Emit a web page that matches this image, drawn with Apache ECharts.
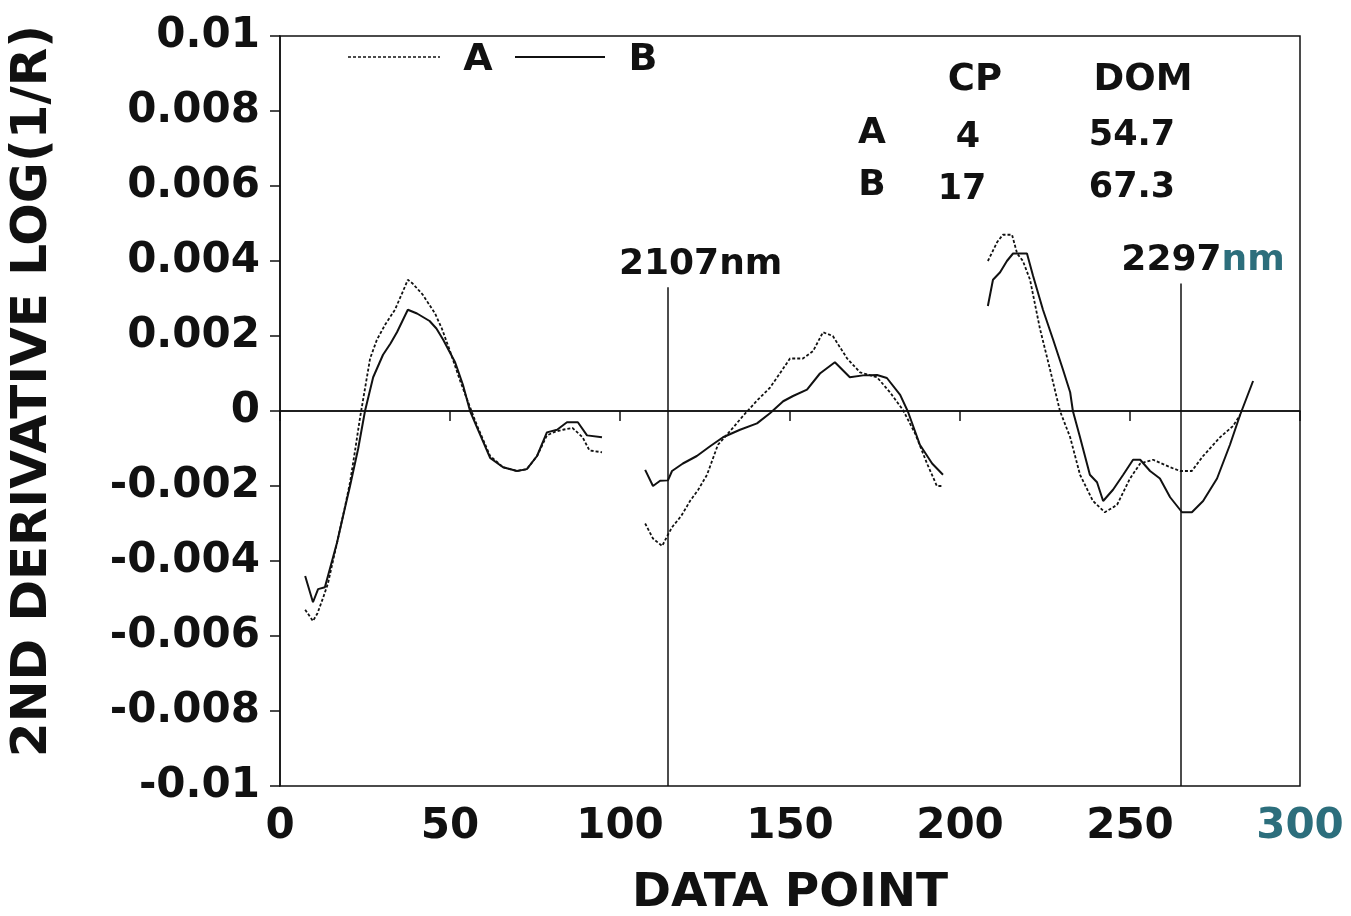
<!DOCTYPE html>
<html>
<head>
<meta charset="utf-8">
<script src="https://cdn.jsdelivr.net/npm/echarts@6/dist/echarts.min.js"></script>
<style>
html,body{margin:0;padding:0;background:#fff;}
#chart{width:1351px;height:916px;}
</style>
</head>
<body>
<div id="chart"></div>
<script>
// ---- data ----
var seriesNames = ['A', 'B'];
var xTicks = [0, 50, 100, 150, 200, 250, 300];
var yTicks = [-0.01, -0.008, -0.006, -0.004, -0.002, 0, 0.002, 0.004, 0.006, 0.008, 0.01];

var A_seg1 = [[7.4,-0.0053],[9.7,-0.0056],[11,-0.0054],[12.6,-0.0050],[14.1,-0.0046],[16.8,-0.0035],[19,-0.0026],[20.6,-0.0019],[22,-0.0011],[23.5,-0.0002],[25,0.0006],[26.5,0.0014],[28.5,0.0019],[30.9,0.0023],[33.8,0.0027],[36.2,0.0032],[37.6,0.0035],[39,0.0034],[42,0.0031],[45.6,0.0026],[47.6,0.0022],[50,0.0016],[53,0.0008],[55.9,0.0001],[58,-0.0004],[61.8,-0.0012],[65.6,-0.0015],[69.7,-0.0016],[72.6,-0.00155],[75.6,-0.0012],[78.5,-0.00065],[81,-0.00055],[83.2,-0.0005],[86,-0.00045],[89,-0.0007],[91,-0.00105],[94.7,-0.0011]];
var A_seg2 = [[107.4,-0.0030],[109.7,-0.0034],[112.4,-0.0036],[114.1,-0.0033],[115.3,-0.0031],[118,-0.0028],[120.6,-0.0024],[123,-0.0021],[125.6,-0.0017],[128.8,-0.0009],[133.2,-0.00045],[136.2,-0.00013],[140.3,0.00028],[144.1,0.00062],[147,0.0010],[150,0.0014],[153.8,0.0014],[156.8,0.0016],[159.7,0.0021],[162.6,0.0020],[166.8,0.0014],[170.6,0.00103],[175.6,0.0009],[179.4,0.0005],[183.2,0.00003],[186.8,-0.0006],[190.3,-0.0014],[193.2,-0.0020],[195,-0.0020]];
var A_seg3 = [[208.2,0.0040],[210.9,0.0045],[212.6,0.0047],[215.3,0.0047],[216.8,0.0042],[218.5,0.0040],[220.6,0.0035],[223.5,0.0022],[226.5,0.0011],[229.4,0],[232.4,-0.0007],[235.3,-0.0017],[239.1,-0.0024],[242.6,-0.0027],[244.5,-0.0026],[246.2,-0.0025],[250,-0.0018],[253,-0.0014],[256.8,-0.0013],[261.8,-0.0015],[264.7,-0.0016],[268.2,-0.0016],[271.5,-0.0012],[276.5,-0.0007],[280.3,-0.0004],[282.4,-0.0001]];

var B_seg1 = [[7.4,-0.0044],[9.7,-0.0051],[11.2,-0.00475],[13.2,-0.0047],[15,-0.0041],[16.8,-0.0035],[18.8,-0.0027],[20.6,-0.0020],[23,-0.0010],[25,0],[27.4,0.0009],[30.3,0.0015],[32.5,0.0018],[34.4,0.0021],[36,0.0024],[37.6,0.0027],[40.3,0.0026],[44,0.0024],[46,0.0022],[48,0.0019],[51.5,0.0013],[53.8,0.0007],[55.9,0],[58,-0.00045],[61.8,-0.00125],[65.6,-0.0015],[69.7,-0.0016],[72.6,-0.00155],[75.6,-0.0012],[78.5,-0.00057],[81.5,-0.0005],[84.4,-0.0003],[87.6,-0.0003],[90.3,-0.00065],[94.7,-0.0007]];
var B_seg2 = [[107.4,-0.00157],[109.7,-0.0020],[111.8,-0.00186],[114.1,-0.00185],[115.3,-0.0016],[118.5,-0.0014],[122.6,-0.0012],[126.5,-0.00094],[130.3,-0.0007],[135.3,-0.0005],[140.3,-0.00033],[144.1,-0.00006],[148,0.00026],[150.9,0.0004],[155,0.00057],[158.8,0.0010],[163.2,0.0013],[167.6,0.0009],[171.5,0.00095],[175.6,0.00096],[178.5,0.00088],[182.4,0.00043],[184.7,-0.00002],[188.2,-0.0009],[191.8,-0.0014],[195,-0.0017]];
var B_seg3 = [[208.2,0.0028],[209.7,0.0035],[211.8,0.0037],[213.8,0.0040],[215.6,0.0042],[219.7,0.0042],[221.5,0.0036],[224.4,0.0027],[227.4,0.0019],[230.3,0.0011],[232.4,0.0005],[233.2,0],[235.3,-0.0007],[238.2,-0.0017],[240.3,-0.0019],[242.1,-0.0024],[245,-0.0021],[248,-0.0017],[250.9,-0.0013],[253,-0.0013],[255.9,-0.0016],[258.8,-0.0018],[261.8,-0.0023],[265.3,-0.0027],[268.2,-0.0027],[271.5,-0.0024],[275.6,-0.0018],[279.4,-0.0009],[282.4,-0.0001],[286.2,0.0008]];

var markerX = [114, 265];
var markerTop = [0.0033, 0.0034];
var markerLabels = ['2107nm', '2297nm'];

var tableHeader = ['CP', 'DOM'];
var tableRows = ['A', 'B'];
var tableCP = ['4', '17'];
var tableDOM = ['54.7', '67.3'];

// ---- build ----
function joinSegs(segs) {
  var out = [];
  segs.forEach(function (s, i) {
    if (i > 0) out.push([s[0][0] - 0.5, null]);
    out = out.concat(s);
  });
  return out;
}
var dataA = joinSegs([A_seg1, A_seg2, A_seg3]);
var dataB = joinSegs([B_seg1, B_seg2, B_seg3]);

var FONT = 'DejaVu Sans';
var INK = '#111';
var TEAL = '#2c6e7c';
var A_DASH = [3, 2];

var markData = [{ yAxis: 0 }];
markerX.forEach(function (x, i) {
  var lbl = i === 1 ? '{k|2297}{t|nm}' : markerLabels[i];
  markData.push([
    { coord: [x, yTicks[0]],
      label: { show: true, position: 'end', formatter: lbl, offset: [i === 0 ? 33 : 22, 0],
               color: INK, fontFamily: FONT, fontWeight: 'bold', fontSize: 36,
               rich: { k: { color: INK, fontFamily: FONT, fontWeight: 'bold', fontSize: 36 },
                       t: { color: TEAL, fontFamily: FONT, fontWeight: 'bold', fontSize: 36 } } } },
    { coord: [x, markerTop[i]] }
  ]);
});

var graphics = [];
// legend (drawn manually: line sample + name)
var legendLineX = [[348, 440], [515, 605]];
var legendTextX = [478, 643];
seriesNames.forEach(function (n, i) {
  graphics.push({ type: 'line', shape: { x1: legendLineX[i][0], y1: 57, x2: legendLineX[i][1], y2: 57 },
    style: { stroke: INK, lineWidth: i === 0 ? 1.6 : 2, lineDash: i === 0 ? A_DASH : null } });
  graphics.push({ type: 'text', x: legendTextX[i], y: 41, style: { text: n, fill: INK, font: 'bold 38px "DejaVu Sans"', textAlign: 'center' } });
});
// table
var colX = [872, 968, 1132];
var headerX = [975, 1143];
tableHeader.forEach(function (h, i) {
  graphics.push({ type: 'text', x: headerX[i], y: 62, style: { text: h, fill: INK, font: 'bold 37px "DejaVu Sans"', textAlign: 'center' } });
});
tableRows.forEach(function (r, i) {
  var y = 116 + i * 52;
  graphics.push({ type: 'text', x: colX[0], y: y, style: { text: r, fill: INK, font: 'bold 36px "DejaVu Sans"', textAlign: 'center' } });
  graphics.push({ type: 'text', x: colX[1] - (i === 1 ? 6 : 0), y: y + 4, style: { text: tableCP[i], fill: INK, font: 'bold 35px "DejaVu Sans"', textAlign: 'center' } });
  graphics.push({ type: 'text', x: colX[2], y: y + 2, style: { text: tableDOM[i], fill: INK, font: 'bold 35px "DejaVu Sans"', textAlign: 'center' } });
});

var chart = echarts.init(document.getElementById('chart'), null, { renderer: 'canvas' });
chart.setOption({
  animation: false,
  backgroundColor: '#fff',
  grid: { left: 280, right: 51, top: 36, bottom: 130, containLabel: false, outerBoundsMode: 'none',
          show: true, borderColor: INK, borderWidth: 1.5, backgroundColor: 'transparent' },
  xAxis: {
    type: 'value', min: xTicks[0], max: xTicks[xTicks.length - 1], interval: 50,
    name: 'DATA POINT', nameLocation: 'middle', nameGap: 84,
    nameTextStyle: { color: INK, fontFamily: FONT, fontWeight: 'bold', fontSize: 47 },
    axisLine: { lineStyle: { color: INK, width: 1.5 } },
    axisTick: { inside: false, length: 10, lineStyle: { color: INK, width: 1.5 } },
    axisLabel: {
      margin: 20,
      formatter: function (v) { return v === 300 ? '{t|' + v + '}' : '{n|' + v + '}'; },
      rich: {
        n: { color: INK, fontFamily: FONT, fontWeight: 'bold', fontSize: 42 },
        t: { color: TEAL, fontFamily: FONT, fontWeight: 'bold', fontSize: 42 }
      }
    },
    splitLine: { show: false }
  },
  yAxis: {
    type: 'value', min: yTicks[0], max: yTicks[yTicks.length - 1], interval: 0.002,
    name: '2ND DERIVATIVE LOG(1/R)', nameLocation: 'middle', nameGap: 222, nameRotate: 90,
    nameTextStyle: { color: INK, fontFamily: FONT, fontWeight: 'bold', fontSize: 50, padding: [0, 0, 0, 40] },
    axisLine: { lineStyle: { color: INK, width: 1.5 } },
    axisTick: { inside: false, length: 10, lineStyle: { color: INK, width: 1.5 } },
    axisLabel: {
      margin: 20, color: INK, fontFamily: FONT, fontWeight: 'bold', fontSize: 42,
      formatter: function (v) { return String(parseFloat(v.toFixed(3))); }
    },
    splitLine: { show: false }
  },
  series: [
    {
      name: 'A', type: 'line', data: dataA, symbol: 'none', connectNulls: false,
      lineStyle: { color: INK, width: 1.8, type: A_DASH }, itemStyle: { color: INK }, z: 3
    },
    {
      name: 'B', type: 'line', data: dataB, symbol: 'none', connectNulls: false,
      lineStyle: { color: INK, width: 2, type: 'solid' }, itemStyle: { color: INK }, z: 4,
      markLine: {
        silent: true, symbol: ['none', 'none'], animation: false,
        lineStyle: { color: INK, width: 1.5, type: 'solid' },
        label: { show: false },
        data: markData
      }
    }
  ],
  graphic: graphics
});
</script>
</body>
</html>
